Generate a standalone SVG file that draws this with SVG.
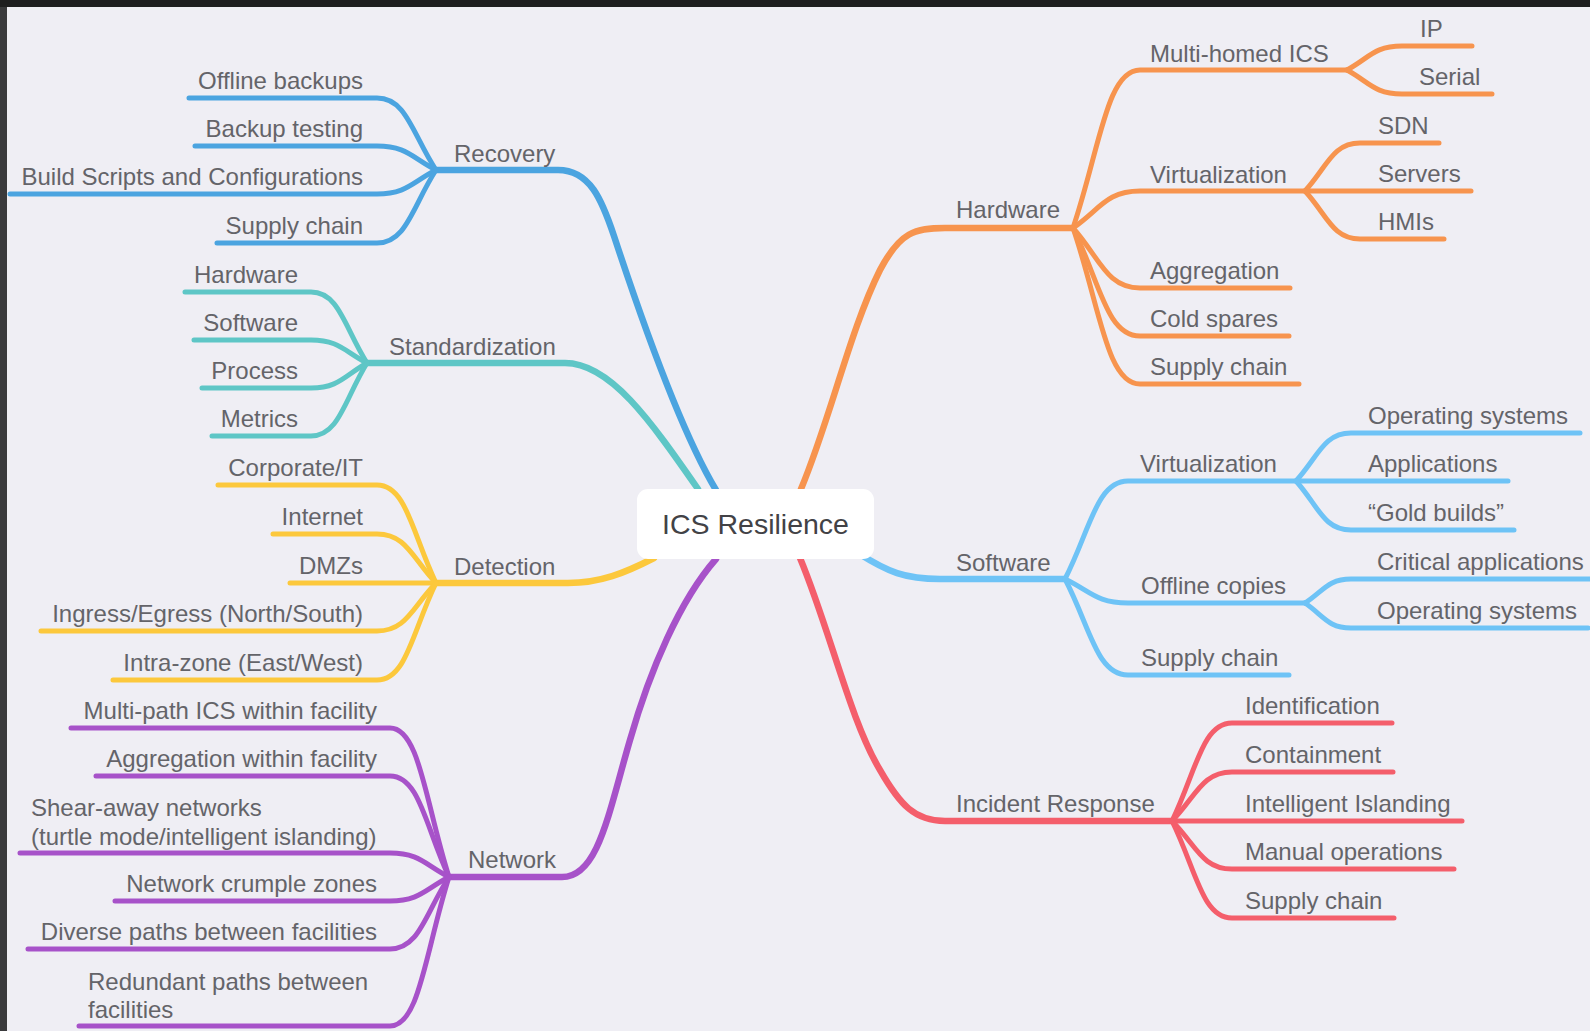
<svg xmlns="http://www.w3.org/2000/svg" width="1590" height="1031" viewBox="0 0 1590 1031">
<defs>
<style>
.t{font-family:"Liberation Sans",Arial,sans-serif;font-size:24px;fill:#646469}
.e{text-anchor:end}
.c{fill:none;stroke-linecap:round;stroke-linejoin:round}
.m{stroke-width:6.5}
.l{stroke-width:5}
.blue{stroke:#4ba4e0}
.teal{stroke:#5ec6c6}
.yel{stroke:#fcc83c}
.pur{stroke:#a752c9}
.ora{stroke:#f7944e}
.lb{stroke:#6ec3f6}
.red{stroke:#f45e6b}
</style>
</defs>
<rect x="0" y="0" width="1590" height="1031" fill="#3a3a3c"/>
<rect x="0" y="0" width="1590" height="7" fill="#1e1e1f"/>
<rect x="7" y="7" width="1583" height="1024" fill="#efeef4"/>

<g id="connectors">
  <!-- main branches -->
  <path class="c m blue" d="M436 170 H558 C590 170 602 200 614 236 C640 315 680 430 716 490"/>
  <path class="c m teal" d="M367 363 H565 C610 363 650 420 698 489"/>
  <path class="c m yel" d="M436 583 H568 C600 583 625 573 654 558"/>
  <path class="c m pur" d="M449 877 H562 C598 877 608 815 630 740 C650 670 680 600 716 559"/>
  <path class="c m ora" d="M801 489 C830 420 850 330 880 270 C900 232 915 228 945 228 H1073"/>
  <path class="c m lb" d="M858 553 C888 572 905 579 940 579 H1065"/>
  <path class="c m red" d="M800 558 C830 630 850 720 880 770 C900 805 915 821 945 821 H1172"/>

  <!-- Recovery leaves -->
  <path class="c l blue" d="M189 98 H377 C406.5 98 412.4 134 436 170"/>
  <path class="c l blue" d="M195 146 H377 C406.5 146 412.4 158 436 170"/>
  <path class="c l blue" d="M10 194 H377 C406.5 194 412.4 182 436 170"/>
  <path class="c l blue" d="M217 243 H377 C406.5 243 412.4 206.5 436 170"/>

  <!-- Standardization leaves -->
  <path class="c l teal" d="M185 292 H311 C339 292 344.6 327.5 367 363"/>
  <path class="c l teal" d="M194 340 H311 C339 340 344.6 351.5 367 363"/>
  <path class="c l teal" d="M202 388 H311 C339 388 344.6 375.5 367 363"/>
  <path class="c l teal" d="M212 436 H311 C339 436 344.6 399.5 367 363"/>

  <!-- Detection leaves -->
  <path class="c l yel" d="M218 485 H377 C406.5 485 412.4 534 436 583"/>
  <path class="c l yel" d="M273 534 H377 C406.5 534 412.4 558.5 436 583"/>
  <path class="c l yel" d="M290 583 H436"/>
  <path class="c l yel" d="M41 631 H377 C406.5 631 412.4 607 436 583"/>
  <path class="c l yel" d="M113 680 H377 C406.5 680 412.4 631.5 436 583"/>

  <!-- Network leaves -->
  <path class="c l pur" d="M71 728 H390 C419.5 728 425.4 802.5 449 877"/>
  <path class="c l pur" d="M96 776 H390 C419.5 776 425.4 826.5 449 877"/>
  <path class="c l pur" d="M20 853 H390 C419.5 853 425.4 865 449 877"/>
  <path class="c l pur" d="M115 901 H390 C419.5 901 425.4 889 449 877"/>
  <path class="c l pur" d="M28 949 H390 C419.5 949 425.4 913 449 877"/>
  <path class="c l pur" d="M79 1026 H390 C419.5 1026 425.4 951.5 449 877"/>

  <!-- Hardware children -->
  <path class="c l ora" d="M1073 228 C1099.8 149 1106.5 70 1140 70 H1347"/>
  <path class="c l ora" d="M1073 228 C1099.8 209.5 1106.5 191 1140 191 H1305"/>
  <path class="c l ora" d="M1073 228 C1099.8 258 1106.5 288 1140 288 H1290"/>
  <path class="c l ora" d="M1073 228 C1099.8 282 1106.5 336 1140 336 H1289"/>
  <path class="c l ora" d="M1073 228 C1099.8 306 1106.5 384 1140 384 H1299"/>
  <path class="c l ora" d="M1347 70 C1369 58 1374.5 46 1402 46 H1472"/>
  <path class="c l ora" d="M1347 70 C1369 82 1374.5 94 1402 94 H1492"/>
  <path class="c l ora" d="M1305 191 C1327 167 1332.5 143 1360 143 H1439"/>
  <path class="c l ora" d="M1305 191 H1471"/>
  <path class="c l ora" d="M1305 191 C1327 215 1332.5 239 1360 239 H1444"/>

  <!-- Software children -->
  <path class="c l lb" d="M1065 579 C1090.2 530 1096.5 481 1128 481 H1296"/>
  <path class="c l lb" d="M1065 579 C1090.2 591 1096.5 603 1128 603 H1305"/>
  <path class="c l lb" d="M1065 579 C1090.2 627 1096.5 675 1128 675 H1289"/>
  <path class="c l lb" d="M1296 481 C1318 457 1323.5 433 1351 433 H1580"/>
  <path class="c l lb" d="M1296 481 H1508"/>
  <path class="c l lb" d="M1296 481 C1318 505.5 1323.5 530 1351 530 H1514"/>
  <path class="c l lb" d="M1305 603 C1323.4 591 1328 579 1351 579 H1594"/>
  <path class="c l lb" d="M1305 603 C1323.4 615.5 1328 628 1351 628 H1588"/>

  <!-- Incident Response children -->
  <path class="c l red" d="M1172 821 C1196 772 1202 723 1232 723 H1392"/>
  <path class="c l red" d="M1172 821 C1196 796.5 1202 772 1232 772 H1393"/>
  <path class="c l red" d="M1172 821 H1462"/>
  <path class="c l red" d="M1172 821 C1196 845 1202 869 1232 869 H1454"/>
  <path class="c l red" d="M1172 821 C1196 869.5 1202 918 1232 918 H1394"/>
</g>

<g id="root">
  <rect x="637" y="489" width="237" height="70" rx="11" fill="#ffffff"/>
  <text x="755.5" y="534" text-anchor="middle" style="font-family:'Liberation Sans',Arial,sans-serif;font-size:28.5px;fill:#424246">ICS Resilience</text>
</g>

<g id="recovery"><text class="t" x="454" y="162">Recovery</text></g>
<g id="rec-offline"><text class="t e" x="363" y="89">Offline backups</text></g>
<g id="rec-testing"><text class="t e" x="363" y="137">Backup testing</text></g>
<g id="rec-build"><text class="t e" x="363" y="185">Build Scripts and Configurations</text></g>
<g id="rec-supply"><text class="t e" x="363" y="234">Supply chain</text></g>

<g id="standardization"><text class="t" x="389" y="355">Standardization</text></g>
<g id="std-hardware"><text class="t e" x="298" y="283">Hardware</text></g>
<g id="std-software"><text class="t e" x="298" y="331">Software</text></g>
<g id="std-process"><text class="t e" x="298" y="379">Process</text></g>
<g id="std-metrics"><text class="t e" x="298" y="427">Metrics</text></g>

<g id="detection"><text class="t" x="454" y="575">Detection</text></g>
<g id="det-corp"><text class="t e" x="363" y="476">Corporate/IT</text></g>
<g id="det-internet"><text class="t e" x="363" y="525">Internet</text></g>
<g id="det-dmz"><text class="t e" x="363" y="574">DMZs</text></g>
<g id="det-ingress"><text class="t e" x="363" y="622">Ingress/Egress (North/South)</text></g>
<g id="det-intra"><text class="t e" x="363" y="671">Intra-zone (East/West)</text></g>

<g id="network"><text class="t" x="468" y="868">Network</text></g>
<g id="net-multipath"><text class="t e" x="377" y="719">Multi-path ICS within facility</text></g>
<g id="net-aggregation"><text class="t e" x="377" y="767">Aggregation within facility</text></g>
<g id="net-shear"><text class="t" x="31" y="816">Shear-away networks</text><text class="t" x="31" y="845">(turtle mode/intelligent islanding)</text></g>
<g id="net-crumple"><text class="t e" x="377" y="892">Network crumple zones</text></g>
<g id="net-diverse"><text class="t e" x="377" y="940">Diverse paths between facilities</text></g>
<g id="net-redundant"><text class="t" x="88" y="990">Redundant paths between</text><text class="t" x="88" y="1018">facilities</text></g>

<g id="hardware"><text class="t" x="956" y="218">Hardware</text></g>
<g id="hw-multihomed"><text class="t" x="1150" y="62">Multi-homed ICS</text></g>
<g id="hw-ip"><text class="t" x="1420" y="37">IP</text></g>
<g id="hw-serial"><text class="t" x="1419" y="85">Serial</text></g>
<g id="hw-virtualization"><text class="t" x="1150" y="183">Virtualization</text></g>
<g id="hw-sdn"><text class="t" x="1378" y="134">SDN</text></g>
<g id="hw-servers"><text class="t" x="1378" y="182">Servers</text></g>
<g id="hw-hmis"><text class="t" x="1378" y="230">HMIs</text></g>
<g id="hw-aggregation"><text class="t" x="1150" y="279">Aggregation</text></g>
<g id="hw-cold"><text class="t" x="1150" y="327">Cold spares</text></g>
<g id="hw-supply"><text class="t" x="1150" y="375">Supply chain</text></g>

<g id="software"><text class="t" x="956" y="571">Software</text></g>
<g id="sw-virtualization"><text class="t" x="1140" y="472">Virtualization</text></g>
<g id="sw-os"><text class="t" x="1368" y="424">Operating systems</text></g>
<g id="sw-apps"><text class="t" x="1368" y="472">Applications</text></g>
<g id="sw-gold"><text class="t" x="1368" y="521">“Gold builds”</text></g>
<g id="sw-offline"><text class="t" x="1141" y="594">Offline copies</text></g>
<g id="sw-critical"><text class="t" x="1377" y="570">Critical applications</text></g>
<g id="sw-os2"><text class="t" x="1377" y="619">Operating systems</text></g>
<g id="sw-supply"><text class="t" x="1141" y="666">Supply chain</text></g>

<g id="incident"><text class="t" x="956" y="812">Incident Response</text></g>
<g id="ir-identification"><text class="t" x="1245" y="714">Identification</text></g>
<g id="ir-containment"><text class="t" x="1245" y="763">Containment</text></g>
<g id="ir-islanding"><text class="t" x="1245" y="812">Intelligent Islanding</text></g>
<g id="ir-manual"><text class="t" x="1245" y="860">Manual operations</text></g>
<g id="ir-supply"><text class="t" x="1245" y="909">Supply chain</text></g>
</svg>
